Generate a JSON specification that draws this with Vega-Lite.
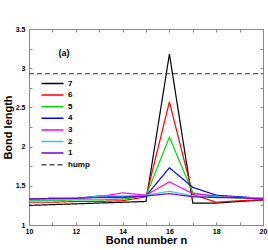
{
  "$schema": "https://vega.github.io/schema/vega-lite/v6.json",
  "width": 234,
  "height": 196,
  "autosize": "none",
  "padding": {"left": 29, "top": 29, "right": 5, "bottom": 25},
  "config": {
    "view": {"stroke": "#888", "strokeWidth": 1},
    "font": "Liberation Sans",
    "axis": {"grid": false, "domainColor": "#888", "tickColor": "#888", "labelFont": "Liberation Sans", "labelFontWeight": "bold", "labelFontSize": 7, "labelColor": "#000", "titleFont": "Liberation Sans", "titleFontWeight": "bold", "titleFontSize": 11, "titleColor": "#000"}
  },
  "datasets": {
    "bonds": [
      {"n": 10, "len": 1.25, "series": "7"}, {"n": 11, "len": 1.26, "series": "7"}, {"n": 12, "len": 1.27, "series": "7"}, {"n": 13, "len": 1.28, "series": "7"}, {"n": 14, "len": 1.29, "series": "7"}, {"n": 15, "len": 1.30, "series": "7"}, {"n": 16, "len": 3.18, "series": "7"}, {"n": 17, "len": 1.28, "series": "7"}, {"n": 18, "len": 1.28, "series": "7"}, {"n": 19, "len": 1.30, "series": "7"}, {"n": 20, "len": 1.32, "series": "7"},
      {"n": 10, "len": 1.29, "series": "6"}, {"n": 11, "len": 1.29, "series": "6"}, {"n": 12, "len": 1.30, "series": "6"}, {"n": 13, "len": 1.30, "series": "6"}, {"n": 14, "len": 1.31, "series": "6"}, {"n": 15, "len": 1.36, "series": "6"}, {"n": 16, "len": 2.57, "series": "6"}, {"n": 17, "len": 1.39, "series": "6"}, {"n": 18, "len": 1.29, "series": "6"}, {"n": 19, "len": 1.31, "series": "6"}, {"n": 20, "len": 1.32, "series": "6"},
      {"n": 10, "len": 1.31, "series": "5"}, {"n": 11, "len": 1.31, "series": "5"}, {"n": 12, "len": 1.32, "series": "5"}, {"n": 13, "len": 1.32, "series": "5"}, {"n": 14, "len": 1.33, "series": "5"}, {"n": 15, "len": 1.37, "series": "5"}, {"n": 16, "len": 2.12, "series": "5"}, {"n": 17, "len": 1.41, "series": "5"}, {"n": 18, "len": 1.36, "series": "5"}, {"n": 19, "len": 1.34, "series": "5"}, {"n": 20, "len": 1.33, "series": "5"},
      {"n": 10, "len": 1.33, "series": "4"}, {"n": 11, "len": 1.34, "series": "4"}, {"n": 12, "len": 1.34, "series": "4"}, {"n": 13, "len": 1.37, "series": "4"}, {"n": 14, "len": 1.36, "series": "4"}, {"n": 15, "len": 1.37, "series": "4"}, {"n": 16, "len": 1.73, "series": "4"}, {"n": 17, "len": 1.48, "series": "4"}, {"n": 18, "len": 1.38, "series": "4"}, {"n": 19, "len": 1.36, "series": "4"}, {"n": 20, "len": 1.34, "series": "4"},
      {"n": 10, "len": 1.33, "series": "3"}, {"n": 11, "len": 1.33, "series": "3"}, {"n": 12, "len": 1.34, "series": "3"}, {"n": 13, "len": 1.36, "series": "3"}, {"n": 14, "len": 1.41, "series": "3"}, {"n": 15, "len": 1.38, "series": "3"}, {"n": 16, "len": 1.55, "series": "3"}, {"n": 17, "len": 1.40, "series": "3"}, {"n": 18, "len": 1.37, "series": "3"}, {"n": 19, "len": 1.35, "series": "3"}, {"n": 20, "len": 1.34, "series": "3"},
      {"n": 10, "len": 1.32, "series": "2"}, {"n": 11, "len": 1.32, "series": "2"}, {"n": 12, "len": 1.33, "series": "2"}, {"n": 13, "len": 1.37, "series": "2"}, {"n": 14, "len": 1.37, "series": "2"}, {"n": 15, "len": 1.38, "series": "2"}, {"n": 16, "len": 1.43, "series": "2"}, {"n": 17, "len": 1.37, "series": "2"}, {"n": 18, "len": 1.36, "series": "2"}, {"n": 19, "len": 1.35, "series": "2"}, {"n": 20, "len": 1.35, "series": "2"},
      {"n": 10, "len": 1.33, "series": "1"}, {"n": 11, "len": 1.34, "series": "1"}, {"n": 12, "len": 1.34, "series": "1"}, {"n": 13, "len": 1.35, "series": "1"}, {"n": 14, "len": 1.35, "series": "1"}, {"n": 15, "len": 1.37, "series": "1"}, {"n": 16, "len": 1.40, "series": "1"}, {"n": 17, "len": 1.36, "series": "1"}, {"n": 18, "len": 1.35, "series": "1"}, {"n": 19, "len": 1.35, "series": "1"}, {"n": 20, "len": 1.33, "series": "1"},
      {"n": 10, "len": 2.93, "series": "hump"}, {"n": 20, "len": 2.93, "series": "hump"}
    ]
  },
  "layer": [
    {
      "data": {"name": "bonds"},
      "mark": {"type": "line", "strokeWidth": 1.2},
      "encoding": {
        "x": {"field": "n", "type": "quantitative", "scale": {"domain": [10, 20], "nice": false, "zero": false},
          "axis": {"orient": "bottom", "title": "Bond number n", "values": [10, 11, 12, 13, 14, 15, 16, 17, 18, 19, 20], "labelExpr": "datum.value % 2 == 0 ? datum.value : ''", "tickSize": -3, "labelPadding": 5, "titlePadding": 0, "labelFlush": false}},
        "y": {"field": "len", "type": "quantitative", "scale": {"domain": [1, 3.5], "nice": false, "zero": false},
          "axis": {"orient": "left", "title": "Bond length", "values": [1, 1.25, 1.5, 1.75, 2, 2.25, 2.5, 2.75, 3, 3.25, 3.5], "labelExpr": "datum.value % 0.5 == 0 ? datum.value : ''", "tickSize": -3, "labelPadding": 7, "titlePadding": 2}},
        "color": {"field": "series", "type": "nominal",
          "scale": {"domain": ["7", "6", "5", "4", "3", "2", "1", "hump"], "range": ["#000000", "#ff0000", "#00dd00", "#0000ff", "#ff00ff", "#33cccc", "#7700cc", "#555555"]},
          "legend": {"title": null, "orient": "none", "legendX": 17, "legendY": 48, "padding": 0, "symbolType": "M-2,0H2", "symbolSize": 121, "symbolStrokeWidth": 1.5, "symbolFillColor": "transparent", "labelFontSize": 8, "labelFontWeight": "bold", "labelFont": "Liberation Sans", "labelOffset": 9, "rowPadding": 0.6}},
        "strokeDash": {"field": "series", "type": "nominal",
          "scale": {"domain": ["7", "6", "5", "4", "3", "2", "1", "hump"], "range": [[1, 0], [1, 0], [1, 0], [1, 0], [1, 0], [1, 0], [1, 0], [5, 3]]},
          "legend": {"title": null, "orient": "none", "legendX": 17, "legendY": 48, "padding": 0, "symbolType": "M-2,0H2", "symbolSize": 121, "symbolStrokeWidth": 1.5, "symbolFillColor": "transparent", "labelFontSize": 8, "labelFontWeight": "bold", "labelFont": "Liberation Sans", "labelOffset": 9, "rowPadding": 0.6}}
      }
    },
    {
      "data": {"values": [{}]},
      "mark": {"type": "text", "fontWeight": "bold", "fontSize": 9, "font": "Liberation Sans"},
      "encoding": {
        "x": {"datum": 11.5, "type": "quantitative", "axis": {"orient": "top", "labels": false, "title": null, "values": [10, 11, 12, 13, 14, 15, 16, 17, 18, 19, 20], "tickSize": -3}},
        "y": {"datum": 3.2, "type": "quantitative", "axis": {"orient": "right", "labels": false, "title": null, "values": [1, 1.25, 1.5, 1.75, 2, 2.25, 2.5, 2.75, 3, 3.25, 3.5], "tickSize": -3}},
        "text": {"value": "(a)"}
      }
    }
  ],
  "resolve": {"axis": {"x": "independent", "y": "independent"}}
}
